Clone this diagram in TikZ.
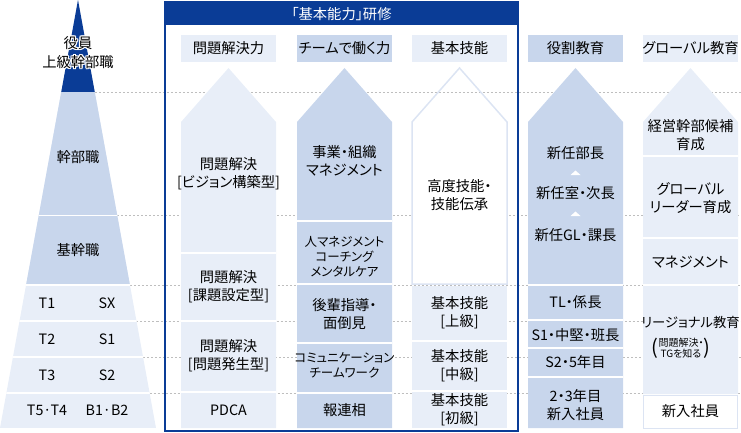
\documentclass[tikz,border=0pt]{standalone}
\usepackage{fontspec}
\setmainfont{Noto Sans CJK JP}[RawFeature=+palt]
\usepackage{xcolor}
\usetikzlibrary{calc}
\definecolor{navyblue}{RGB}{10,60,150}
\definecolor{midblue}{RGB}{200,214,236}
\definecolor{paleblue}{RGB}{232,238,248}
\definecolor{rimblue}{RGB}{220,228,243}
\definecolor{dotgray}{RGB}{190,190,190}
\tikzset{
  pics/arrowcol/.default={428},
  pics/arrowcol/.style = {
    code = {
    \path[pic actions] (0,122) -- (47.5,68) -- (95,122) -- (95,#1) -- (0,#1) -- cycle;
    }
  },
  lbl/.style={font=\fontsize{14.3}{18}\selectfont, align=center, inner sep=0pt},
  small/.style={lbl, font=\fontsize{12.5}{15}\selectfont},
  dotline/.style={draw=dotgray, line width=0.8pt, dash pattern=on 2pt off 2pt},
  sep/.style={draw=white, line width=2pt}
}

\begin{document}
\begin{tikzpicture}[x=1pt,y=-1pt]
\useasboundingbox (0,0) rectangle (741,433);

% guide lines
\foreach \y in {92,215,285,321,357,393}{
  \draw[dotline] ({78+0.18224*\y},\y) -- (741,\y);
}

% pyramid
\begin{scope}
  \clip (78,0) -- (156,428) -- (0,428) -- cycle;
  \fill[paleblue] (0,0) rectangle (160,428);
  \fill[midblue] (0,92) rectangle (160,285);
  \fill[navyblue] (0,0) rectangle (160,92);
  \draw[white, line width=1pt] (0,215) -- (160,215);
  \foreach \y in {285,321,357,393}{
    \draw[sep] (0,\y) -- (160,\y);
  }
\end{scope}
\foreach \dx/\dy [count=\i] in {-1.2/0,1.2/0,0/-1.2,0/1.2,-0.9/-0.9,0.9/0.9,-0.9/0.9,0.9/-0.9}{
  \node[lbl, font=\fontsize{14.3}{19}\selectfont, text=white] (halo\i) at (78+\dx,52.5+\dy) {役員\\上級幹部職};
}
\node[lbl, font=\fontsize{14.3}{19}\selectfont] (top) at (78,52.5) {役員\\上級幹部職};
\node[lbl] (kanbu) at (78,157) {幹部職};
\node[lbl] (kikan) at (78,250) {基幹職};
\foreach \y/\a/\b [count=\i] in {303/T1/SX, 339/T2/S1, 375/T3/S2, 410/T5·T4/B1·B2}{
  \node[lbl] (gradeT\i) at (47,\y) {\a};
  \node[lbl] (gradeS\i) at (107,\y) {\b};
}

% frame
\fill[navyblue] (165,2) rectangle (518,25);
\draw[navyblue, line width=1.5pt] (165,2) rectangle (518,431);
\node[lbl, text=white] (frametitle) at (341.5,14) {「基本能力」研修};

% column heads
\foreach \x/\col in {181/paleblue, 297/midblue, 412/paleblue, 528/midblue, 643/paleblue}{
  \fill[\col] (\x,35) rectangle ++(95,27);
}
\node[lbl] (headA) at (228.5,48) {問題解決力};
\node[lbl] (headB) at (344.5,48) {チームで働く力};
\node[lbl] (headC) at (459.5,48) {基本技能};
\node[lbl] (headD) at (575.5,48) {役割教育};
\node[lbl] (headE) at (690.5,48) {グローバル教育};

% arrows
\pic[fill=paleblue] at (181,0) {arrowcol};
\pic[fill=midblue] at (297,0) {arrowcol};
\fill[white] (412,122) rectangle (507,284);
\pic[draw=rimblue, line width=1.5pt] at (412,0) {arrowcol=284};
\fill[paleblue] (412,286) rectangle (507,428);
\pic[fill=midblue] at (528,0) {arrowcol};
\pic[fill=paleblue] at (643,0) {arrowcol=394};
\draw[rimblue, fill=white, line width=1pt] (643.5,395.5) rectangle (737.5,428);

% separators
\foreach \y in {253,321,392}{
  \draw[sep] (181,\y) -- ++(95,0);
}
\foreach \y in {221,284,343,393}{
  \draw[sep] (297,\y) -- ++(95,0);
}
\foreach \y in {341,391}{
  \draw[sep] (412,\y) -- ++(95,0);
}
\foreach \y in {285,320,348,377}{
  \draw[sep] (528,\y) -- ++(95,0);
}
\foreach \y in {156,238,285}{
  \draw[sep] (643,\y) -- ++(95,0);
}

% column A
\node[lbl] (vision) at (228.5,174) {問題解決\\{[}ビジョン構築型{]}};
\node[lbl] (kadai) at (228.5,287) {問題解決\\{[}課題設定型{]}};
\node[lbl] (hassei) at (228.5,356) {問題解決\\{[}問題発生型{]}};
\node[lbl] (pdca) at (228.5,410) {PDCA};

% column B
\node[lbl] (soshiki) at (344.5,161) {事業・組織\\マネジメント};
\node[small] (hito) at (344.5,257) {人マネジメント\\コーチング\\メンタルケア};
\node[lbl] (kouhai) at (344.5,314) {後輩指導・\\面倒見};
\node[small] (comm) at (344.5,365) {コミュニケーション\\チームワーク};
\node[lbl] (hou) at (344.5,410) {報連相};

% column C
\node[lbl] (koudo) at (459.5,195) {高度技能・\\技能伝承};
\node[lbl] (jou) at (459.5,313) {基本技能\\{[}上級{]}};
\node[lbl] (chuu) at (459.5,366) {基本技能\\{[}中級{]}};
\node[lbl] (sho) at (459.5,410) {基本技能\\{[}初級{]}};

% column D
\node[lbl] (buchou) at (575.5,153) {新任部長};
\node[lbl] (jichou) at (575.5,193) {新任室・次長};
\node[lbl] (kachou) at (575.5,235) {新任GL・課長};
\foreach \y in {175,216}{
  \fill[white] (570.5,\y) -- (575.5,\y-4.5) -- (580.5,\y) -- cycle;
}
\node[lbl] (kakari) at (575.5,302) {TL・係長};
\node[lbl] (hanchou) at (575.5,335) {S1・中堅・班長};
\node[lbl] (gonen) at (575.5,362) {S2・5年目};
\node[lbl] (shinjinD) at (575.5,405) {2・3年目\\新入社員};

% column E
\node[lbl] (keiei) at (690.5,135) {経営幹部候補\\育成};
\node[lbl] (leader) at (690.5,198) {グローバル\\リーダー育成};
\node[lbl] (manage) at (690.5,262) {マネジメント};
\node[lbl, font=\fontsize{13.3}{18}\selectfont] (regional) at (690.5,322) {リージョナル教育};
\node[lbl, font=\fontsize{10}{11.5}\selectfont] (regnote) at (681,348) {問題解決・\\TGを知る};
\node[lbl, font=\fontsize{20}{20}\selectfont, anchor=east] (parenL) at (regnote.west) {(};
\node[lbl, font=\fontsize{20}{20}\selectfont, anchor=west] (parenR) at (regnote.east) {)};
\node[lbl] (shinjinE) at (690.5,411) {新入社員};
\end{tikzpicture}
\end{document}
